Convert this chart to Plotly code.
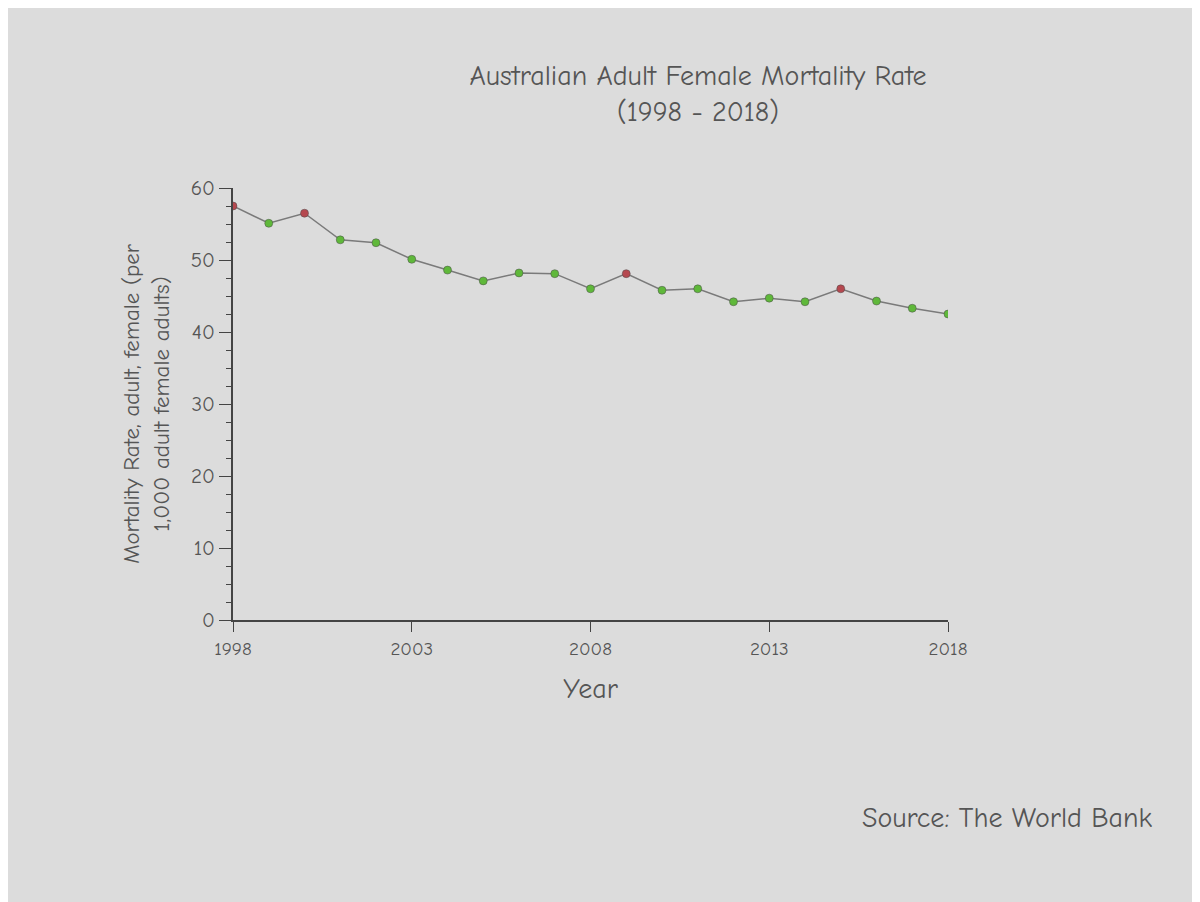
import plotly.graph_objects as go

years = list(range(1998, 2019))
mortality = [57.5, 55.1, 56.5, 52.8, 52.4, 50.1, 48.6, 47.1, 48.2, 48.1, 46.0,
             48.1, 45.8, 46.0, 44.2, 44.7, 44.2, 46.0, 44.3, 43.3, 42.5]
# points marked in red on the original sketch (local peaks)
red_years = [1998, 2000, 2009, 2015]
x_ticks = [1998, 2003, 2008, 2013, 2018]
y_ticks = [0, 10, 20, 30, 40, 50, 60]

marker_colors = ["#b5484f" if y in red_years else "#5fb83a" for y in years]
hand = "Comic Neue, Lato, sans-serif"
ink = "#555555"

fig = go.Figure()
fig.add_trace(go.Scatter(
    x=years, y=mortality, mode="lines+markers",
    line=dict(color="#7a7a7a", width=1.5),
    marker=dict(color=marker_colors, size=8, line=dict(color="#4a4a4a", width=0.5)),
    showlegend=False,
))

fig.update_layout(
    width=1200, height=902,
    paper_bgcolor="#dcdcdc", plot_bgcolor="#dcdcdc",
    margin=dict(l=225, r=260, t=180, b=290),
    font=dict(family=hand, color=ink, size=18),
    title=dict(text="Australian Adult Female Mortality Rate<br>(1998 - 2018)",
               x=0.575, xanchor="center", y=0.915, font=dict(size=28, color=ink)),
    xaxis=dict(range=[1998, 2018], tickvals=x_ticks, showgrid=False, zeroline=False,
               showline=True, linecolor="#444", linewidth=2, ticks="outside",
               ticklen=10, tickcolor="#444", tickfont=dict(size=19),
               title=dict(text="Year", font=dict(size=28), standoff=20)),
    yaxis=dict(range=[0, 60], tickvals=y_ticks, showgrid=False, zeroline=False,
               showline=True, linecolor="#444", linewidth=2, ticks="outside",
               ticklen=12, tickcolor="#444", tickfont=dict(size=21),
               minor=dict(dtick=2.5, ticks="outside", ticklen=5, tickcolor="#444"),
               title=dict(text="Mortality Rate, adult, female (per<br>1,000 adult female adults)",
                          font=dict(size=23), standoff=15)),
    annotations=[dict(text="Source: The World Bank", xref="paper", yref="paper",
                      x=1.29, y=-0.5, xanchor="right", showarrow=False,
                      font=dict(size=28, color=ink))],
)

fig.write_html("out.html")
